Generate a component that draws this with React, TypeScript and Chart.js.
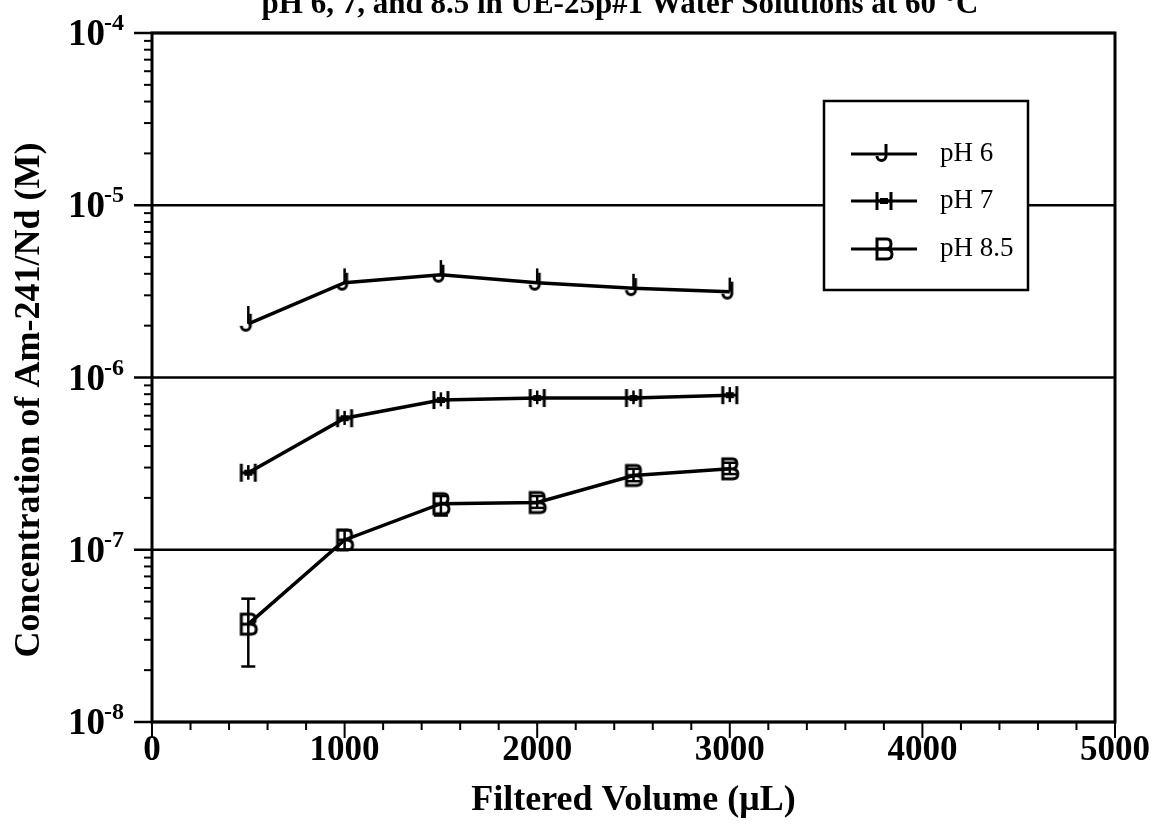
import React, { useEffect, useRef } from "react";
import { Chart, registerables } from "chart.js";

Chart.register(...registerables);

// ---- data ----
const volumes = [500, 1000, 1500, 2000, 2500, 3000];

const ph6Values = [2.05e-6, 3.55e-6, 3.95e-6, 3.55e-6, 3.3e-6, 3.15e-6];
const ph6Low = [2.05e-6, 3.55e-6, 3.95e-6, 3.55e-6, 3.3e-6, 3.15e-6];
const ph6High = [2.6e-6, 4.3e-6, 4.8e-6, 4.3e-6, 4.0e-6, 3.8e-6];

const ph7Values = [2.8e-7, 5.8e-7, 7.4e-7, 7.6e-7, 7.6e-7, 7.9e-7];
const ph7Low = [2.55e-7, 5.3e-7, 6.8e-7, 7.0e-7, 7.0e-7, 7.2e-7];
const ph7High = [3.1e-7, 6.4e-7, 8.2e-7, 8.4e-7, 8.4e-7, 8.8e-7];

const ph85Values = [3.7e-8, 1.14e-7, 1.85e-7, 1.88e-7, 2.7e-7, 2.95e-7];
const ph85Low = [2.1e-8, 1.0e-7, 1.58e-7, 1.75e-7, 2.5e-7, 2.75e-7];
const ph85High = [5.2e-8, 1.3e-7, 2.05e-7, 2.05e-7, 2.95e-7, 3.2e-7];

const seriesLabels = ["pH 6", "pH 7", "pH 8.5"];
const xTickValues = [0, 1000, 2000, 3000, 4000, 5000];
const yDecades = [-8, -7, -6, -5, -4];
const chartTitle = "pH 6, 7, and 8.5 in UE-25p#1 Water Solutions at 60 °C";
const xTitle = "Filtered Volume (μL)";
const yTitle = "Concentration of Am-241/Nd (M)";

const FONT = '"Liberation Serif", "Times New Roman", Times, serif';

function makeMarker(kind: string): HTMLCanvasElement {
  const c = document.createElement("canvas");
  c.width = 24;
  c.height = 28;
  const g = c.getContext("2d")!;
  g.strokeStyle = "#000";
  g.fillStyle = "#000";
  g.lineWidth = 3;
  g.lineCap = "butt";
  if (kind === "J") {
    g.beginPath();
    g.moveTo(14, 4);
    g.lineTo(14, 16);
    g.stroke();
    g.beginPath();
    g.arc(9.5, 16, 4.5, 0, Math.PI, false);
    g.stroke();
  } else if (kind === "H") {
    g.beginPath();
    g.moveTo(5, 5);
    g.lineTo(5, 23);
    g.moveTo(19, 5);
    g.lineTo(19, 23);
    g.moveTo(5, 14);
    g.lineTo(19, 14);
    g.stroke();
    g.fillRect(8, 11, 8, 6);
  } else {
    g.beginPath();
    g.moveTo(5, 4);
    g.lineTo(15, 4);
    g.quadraticCurveTo(19, 4, 19, 9);
    g.quadraticCurveTo(19, 14, 14, 14);
    g.quadraticCurveTo(20, 14, 20, 19);
    g.quadraticCurveTo(20, 24, 15, 24);
    g.lineTo(5, 24);
    g.closePath();
    g.moveTo(5, 14);
    g.lineTo(14, 14);
    g.stroke();
  }
  return c;
}

export default function App() {
  const ref = useRef<HTMLCanvasElement | null>(null);

  useEffect(() => {
    const canvas = ref.current;
    if (!canvas) return;
    const markers = [makeMarker("J"), makeMarker("H"), makeMarker("B")];
    const lows = [ph6Low, ph7Low, ph85Low];
    const highs = [ph6High, ph7High, ph85High];
    const caps = [0, 0, 7];

    const line = (ctx: CanvasRenderingContext2D, x1: number, y1: number, x2: number, y2: number) => {
      ctx.beginPath();
      ctx.moveTo(x1, y1);
      ctx.lineTo(x2, y2);
      ctx.stroke();
    };

    const framePlugin = {
      id: "frame",
      beforeDatasetsDraw(chart: any) {
        const { ctx, chartArea: a, scales } = chart;
        const x = scales.x;
        const y = scales.y;
        ctx.save();
        ctx.strokeStyle = "#000";
        ctx.lineCap = "butt";
        ctx.lineWidth = 2.5;
        for (const d of yDecades) {
          const py = y.getPixelForValue(Math.pow(10, d));
          line(ctx, a.left, py, a.right, py);
        }
        ctx.lineWidth = 3;
        ctx.strokeRect(a.left, a.top, a.right - a.left, a.bottom - a.top);
        ctx.lineWidth = 2;
        for (let d = -8; d < -4; d++) {
          for (let m = 2; m <= 9; m++) {
            const py = y.getPixelForValue(m * Math.pow(10, d));
            line(ctx, a.left - 8, py, a.left, py);
          }
        }
        ctx.lineWidth = 2.5;
        for (const d of yDecades) {
          const py = y.getPixelForValue(Math.pow(10, d));
          line(ctx, a.left - 18, py, a.left, py);
        }
        ctx.lineWidth = 2;
        for (let v = 0; v <= 5000; v += 200) {
          const px = x.getPixelForValue(v);
          const len = v % 1000 === 0 ? 16 : 8;
          line(ctx, px, a.bottom, px, a.bottom + len);
        }
        // y tick labels 10^n
        ctx.fillStyle = "#000";
        ctx.textAlign = "right";
        ctx.textBaseline = "alphabetic";
        for (const d of yDecades) {
          const py = y.getPixelForValue(Math.pow(10, d));
          const sup = String(d);
          ctx.font = `bold 24px ${FONT}`;
          const ws = ctx.measureText(sup).width;
          const right = a.left - 28;
          ctx.fillText(sup, right, py - 3);
          ctx.font = `bold 37px ${FONT}`;
          ctx.fillText("10", right - ws + 1, py + 12);
        }
        // y axis title
        ctx.save();
        ctx.translate(30, 400);
        ctx.rotate(-Math.PI / 2);
        ctx.textAlign = "center";
        ctx.textBaseline = "middle";
        ctx.font = `bold 36px ${FONT}`;
        ctx.fillText(yTitle, 0, 0);
        ctx.restore();
        ctx.restore();
      },
      afterDatasetsDraw(chart: any) {
        const { ctx, scales } = chart;
        const x = scales.x;
        const y = scales.y;
        ctx.save();
        ctx.strokeStyle = "#000";
        ctx.lineWidth = 2.5;
        chart.data.datasets.forEach((ds: any, i: number) => {
          volumes.forEach((v, j) => {
            const px = x.getPixelForValue(v);
            const pl = y.getPixelForValue(lows[i][j]);
            const ph = y.getPixelForValue(highs[i][j]);
            line(ctx, px, pl, px, ph);
            if (caps[i] > 0) {
              line(ctx, px - caps[i], pl, px + caps[i], pl);
              line(ctx, px - caps[i], ph, px + caps[i], ph);
            }
          });
        });
        ctx.restore();
      },
      afterDraw(chart: any) {
        const { ctx } = chart;
        ctx.save();
        ctx.fillStyle = "#000";
        ctx.font = `bold 31px ${FONT}`;
        ctx.textAlign = "center";
        ctx.textBaseline = "alphabetic";
        ctx.fillText(chartTitle, 620, 13);
        // legend box
        const bx = 824, by = 101, bw = 204, bh = 189;
        ctx.fillStyle = "#fff";
        ctx.fillRect(bx, by, bw, bh);
        ctx.strokeStyle = "#000";
        ctx.lineWidth = 2.5;
        ctx.strokeRect(bx, by, bw, bh);
        const rows = [154, 201, 249];
        ctx.font = `27px ${FONT}`;
        ctx.textAlign = "left";
        ctx.textBaseline = "middle";
        ctx.fillStyle = "#000";
        rows.forEach((ry, i) => {
          ctx.lineWidth = 3;
          line(ctx, 851, ry, 917, ry);
          const m = markers[i];
          ctx.drawImage(m, 884 - m.width / 2, ry - m.height / 2);
          ctx.fillText(seriesLabels[i], 940, ry);
        });
        ctx.restore();
      },
    };

    const mkDs = (label: string, data: number[], marker: HTMLCanvasElement) => ({
      label,
      data: volumes.map((v, i) => ({ x: v, y: data[i] })),
      borderColor: "#000",
      backgroundColor: "#000",
      borderWidth: 3.5,
      pointStyle: marker,
      pointRadius: 9,
      tension: 0,
    });

    const chart = new Chart(canvas, {
      type: "line",
      data: {
        datasets: [
          mkDs(seriesLabels[0], ph6Values, markers[0]),
          mkDs(seriesLabels[1], ph7Values, markers[1]),
          mkDs(seriesLabels[2], ph85Values, markers[2]),
        ],
      },
      options: {
        responsive: false,
        animation: false,
        layout: { padding: { left: 0, right: 39, top: 33, bottom: 0 } },
        plugins: {
          legend: { display: false },
          title: { display: false },
          tooltip: { enabled: false },
        },
        scales: {
          x: {
            type: "linear",
            min: 0,
            max: 5000,
            afterFit: (s: any) => {
              s.height = 110;
              s.paddingLeft = 0;
              s.paddingRight = 0;
            },
            afterBuildTicks: (s: any) => {
              s.ticks = xTickValues.map((v) => ({ value: v }));
            },
            grid: { display: false, drawTicks: false },
            border: { display: false },
            ticks: {
              color: "#000",
              font: { family: FONT, size: 35, weight: "bold" },
              padding: 8,
              maxRotation: 0,
              autoSkip: false,
              callback: (v: any) => String(v),
            },
            title: {
              display: true,
              text: xTitle,
              color: "#000",
              font: { family: FONT, size: 36, weight: "bold" },
              padding: { top: 0, bottom: 10 },
            },
          },
          y: {
            type: "logarithmic",
            min: 1e-8,
            max: 1e-4,
            afterFit: (s: any) => {
              s.width = 152;
              s.paddingTop = 0;
              s.paddingBottom = 0;
            },
            grid: { display: false, drawTicks: false },
            border: { display: false },
            ticks: { display: false },
            title: { display: false, text: yTitle },
          },
        },
      } as any,
      plugins: [framePlugin],
    });
    return () => chart.destroy();
  }, []);

  return (
    <div style={{ position: "fixed", left: 0, top: 0, width: 1154, height: 832, background: "#fff" }}>
      <canvas ref={ref} width={1154} height={832} style={{ display: "block" }} />
    </div>
  );
}
